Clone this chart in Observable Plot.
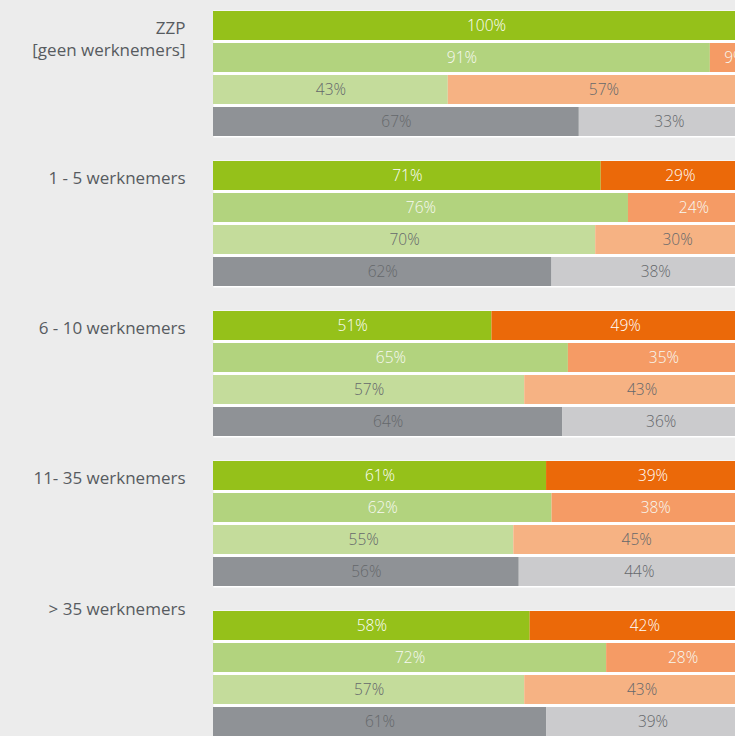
<!DOCTYPE html>
<html><head><meta charset="utf-8">
<script src="https://cdn.jsdelivr.net/npm/d3@7"></script>
<script src="https://cdn.jsdelivr.net/npm/@observablehq/plot@0.6"></script>
<style>
html,body{margin:0;padding:0;background:#ececec;overflow:hidden;}
#chart{width:759px;}
#chart svg{display:block;}
</style></head><body><div id="chart"></div>
<script>
const groups = ["ZZP\n[geen werknemers]", "1 - 5 werknemers", "6 - 10 werknemers", "11- 35 werknemers", "> 35 werknemers"];
const rows = ["r1", "r2", "r3", "r4"];
const leftValues = [
  [100, 91, 43, 67],
  [71, 76, 70, 62],
  [51, 65, 57, 64],
  [61, 62, 55, 56],
  [58, 72, 57, 61]
];
const rightValues = [
  [0, 9, 57, 33],
  [29, 24, 30, 38],
  [49, 35, 43, 36],
  [39, 38, 45, 44],
  [42, 28, 43, 39]
];
const leftColors = ["#95c11a", "#b2d37e", "#c4dc9b", "#8f9296"];
const rightColors = ["#eb6909", "#f59b65", "#f6b283", "#cbcbcd"];
const textColors = ["#ffffff", "#f7f9f2", "#65686b", "#65686b"];

const data = [];
groups.forEach((g, gi) => rows.forEach((r, ri) => {
  data.push({group: g, row: r, value: leftValues[gi][ri], fill: leftColors[ri], ink: textColors[ri]});
  data.push({group: g, row: r, value: rightValues[gi][ri], fill: rightColors[ri], ink: textColors[ri]});
}));
const labels = groups.map(g => ({group: g, row: rows[0]}));

const chart = Plot.plot({
  width: 759, height: 738,
  marginLeft: 213, marginRight: 0, marginTop: 8, marginBottom: 0,
  style: {background: "#ececec", fontFamily: "'Open Sans', Roboto, sans-serif", fontSize: "16px"},
  x: {domain: [0, 100], axis: null},
  y: {domain: rows, axis: null, paddingInner: 0.09, paddingOuter: 0},
  fy: {domain: groups, axis: null, paddingInner: 0.154, paddingOuter: 0},
  color: {type: "identity"},
  marks: [
    Plot.frame({fill: "white", stroke: null}),
    Plot.barX(data, Plot.stackX({x: "value", y: "row", fy: "group", fill: "fill", inset: 0})),
    Plot.text(data.filter(d => d.value > 0), Plot.stackX({x: "value", y: "row", fy: "group", text: d => d.value + "%", fill: "ink", fontSize: 15.5, fontWeight: 300})),
    Plot.text(labels.slice(0, 4), {fy: "group", y: "row", text: "group", frameAnchor: "left", textAnchor: "end", dx: -28, lineAnchor: "top", dy: -8, lineHeight: 1.3, fill: "#575b5f", fontSize: 17, fontWeight: 400})
    ,
    Plot.text(labels.slice(4), {fy: "group", y: "row", text: "group", frameAnchor: "left", textAnchor: "end", dx: -28, lineAnchor: "middle", dy: -16, fill: "#575b5f", fontSize: 17, fontWeight: 400})
  ]
});
document.getElementById("chart").appendChild(chart);
</script></body></html>
